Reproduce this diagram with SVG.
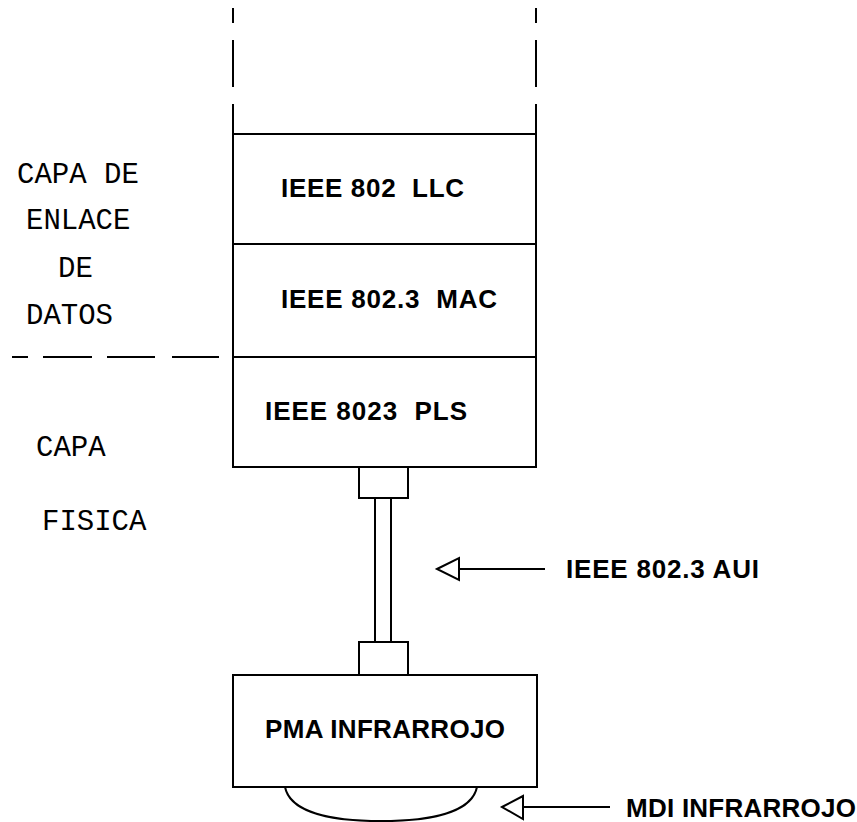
<svg xmlns="http://www.w3.org/2000/svg" width="857" height="822" viewBox="0 0 857 822">
<style>
.ln{stroke:#000;stroke-width:2;fill:none}
.bx{stroke:#000;stroke-width:2;fill:#fff}
.lbl{font-family:"Liberation Sans",Arial,sans-serif;font-weight:bold;font-size:26px;fill:#000;white-space:pre}
.side{font-family:"Liberation Mono","Courier New",monospace;font-size:29px;fill:#000;white-space:pre}
</style>
<rect width="857" height="822" fill="#fff"/>
<g id="stack">
<path class="ln" d="M233,8V23M233,40V87M233,104V134M536,8V23M536,40V87M536,104V134"/>
</g>
<g id="llc">
<rect class="bx" x="233" y="134" width="303" height="110"/>
<text class="lbl" x="281" y="197" textLength="183" lengthAdjust="spacing" xml:space="preserve">IEEE 802  LLC</text>
</g>
<g id="mac">
<rect class="bx" x="233" y="244" width="303" height="113"/>
<text class="lbl" x="281" y="308" textLength="216" lengthAdjust="spacing" xml:space="preserve">IEEE 802.3  MAC</text>
</g>
<g id="pls">
<rect class="bx" x="233" y="357" width="303" height="110"/>
<text class="lbl" x="265" y="420" textLength="202" lengthAdjust="spacing" xml:space="preserve">IEEE 8023  PLS</text>
</g>
<g id="layers">
<path class="ln" d="M12,357H28M43,357H92M107,357H155M172,357H219"/>
<text class="side" x="17" y="183">CAPA DE</text>
<text class="side" x="26" y="229">ENLACE</text>
<text class="side" x="58" y="277">DE</text>
<text class="side" x="26" y="324">DATOS</text>
<text class="side" x="36" y="456">CAPA</text>
<text class="side" x="42" y="530">FISICA</text>
</g>
<g id="connectors">
<rect class="bx" x="359" y="467" width="49" height="31"/>
<path class="ln" d="M375,498V642M391,498V642"/>
<rect class="bx" x="359" y="642" width="49" height="33"/>
<path class="ln" d="M437,569L459,558V580Z M459,569H545"/>
<path class="ln" d="M502,807L523,796V819Z M523,807H610"/>
</g>
<g id="pma">
<rect class="bx" x="233" y="675" width="304" height="112"/>
<text class="lbl" x="265" y="738" textLength="240" lengthAdjust="spacing">PMA INFRARROJO</text>
<path class="ln" d="M285,787C290,812 330,821 381,821C432,821 472,812 477,787"/>
</g>
<g id="labels">
<text class="lbl" x="566" y="578" textLength="193" lengthAdjust="spacing">IEEE 802.3 AUI</text>
<text class="lbl" x="626" y="817" textLength="230" lengthAdjust="spacing">MDI INFRARROJO</text>
</g>
</svg>
